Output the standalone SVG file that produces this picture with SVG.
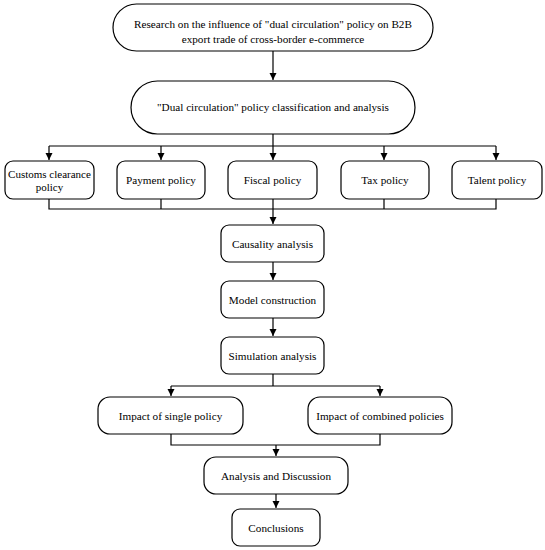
<svg xmlns="http://www.w3.org/2000/svg" width="545" height="550" viewBox="0 0 545 550">
<defs>
<marker id="ah" markerWidth="8" markerHeight="8" refX="7" refY="4" orient="auto" markerUnits="userSpaceOnUse">
<path d="M0,0.5 L7,4 L0,7.5 Z" fill="#000"/>
</marker>
<style>
.n{fill:#fff;stroke:#000;stroke-width:1.2}
.c{fill:none;stroke:#000;stroke-width:1.2}
.a{marker-end:url(#ah)}
text{font-family:"Liberation Serif","Times New Roman",serif;font-size:11.2px;fill:#000;text-anchor:middle}
</style>
</defs>
<rect width="545" height="550" fill="#fff"/>
<g id="connectors">
<path class="c a" d="M273,51 V80"/>
<path class="c" d="M273,134 V146 M49,146 H496"/>
<path class="c a" d="M49,146 V160"/>
<path class="c a" d="M161,146 V160"/>
<path class="c a" d="M273,146 V160"/>
<path class="c a" d="M384,146 V160"/>
<path class="c a" d="M496,146 V160"/>
<path class="c" d="M49,199 V209 H496 V199 M161,199 V209 M384,199 V209"/>
<path class="c a" d="M273,199 V224"/>
<path class="c a" d="M273,262 V280"/>
<path class="c a" d="M273,318 V336"/>
<path class="c" d="M273,374 V386 M171,386 H380"/>
<path class="c a" d="M171,386 V396"/>
<path class="c a" d="M380,386 V396"/>
<path class="c" d="M171,434 V445 H380 V434"/>
<path class="c a" d="M276,445 V456"/>
<path class="c a" d="M276,494 V508"/>
</g>
<g id="n1"><rect class="n" x="113" y="4" width="320" height="47" rx="23.5"/><text x="273" y="28">Research on the influence of "dual circulation" policy on B2B</text><text x="273" y="43">export trade of cross-border e-commerce</text></g>
<g id="n2"><rect class="n" x="131" y="81" width="284" height="53" rx="26.5"/><text x="273" y="111">"Dual circulation" policy classification and analysis</text></g>
<g id="p1"><rect class="n" x="5" y="161" width="89" height="38" rx="8"/><text x="49.5" y="178" style="font-size:11px">Customs clearance</text><text x="49.5" y="191" style="font-size:11px">policy</text></g>
<g id="p2"><rect class="n" x="117" y="161" width="88" height="38" rx="8"/><text x="161" y="184">Payment policy</text></g>
<g id="p3"><rect class="n" x="228" y="161" width="89" height="38" rx="8"/><text x="272.5" y="184">Fiscal policy</text></g>
<g id="p4"><rect class="n" x="341" y="161" width="88" height="38" rx="8"/><text x="385" y="184">Tax policy</text></g>
<g id="p5"><rect class="n" x="452" y="161" width="90" height="38" rx="8"/><text x="497" y="184">Talent policy</text></g>
<g id="n3"><rect class="n" x="221" y="225" width="103" height="37" rx="8"/><text x="272.5" y="247.5">Causality analysis</text></g>
<g id="n4"><rect class="n" x="221" y="281" width="103" height="37" rx="8"/><text x="272.5" y="303.5">Model construction</text></g>
<g id="n5"><rect class="n" x="221" y="337" width="103" height="37" rx="8"/><text x="272.5" y="359.5">Simulation analysis</text></g>
<g id="n6"><rect class="n" x="98" y="397" width="145" height="37" rx="12"/><text x="170.5" y="419.5">Impact of single policy</text></g>
<g id="n7"><rect class="n" x="308" y="397" width="144" height="37" rx="12"/><text x="380" y="419.5">Impact of combined policies</text></g>
<g id="n8"><rect class="n" x="204" y="457" width="144" height="37" rx="12"/><text x="276" y="479.5">Analysis and Discussion</text></g>
<g id="n9"><rect class="n" x="232" y="509" width="88" height="37" rx="8"/><text x="276" y="531.5">Conclusions</text></g>
</svg>
